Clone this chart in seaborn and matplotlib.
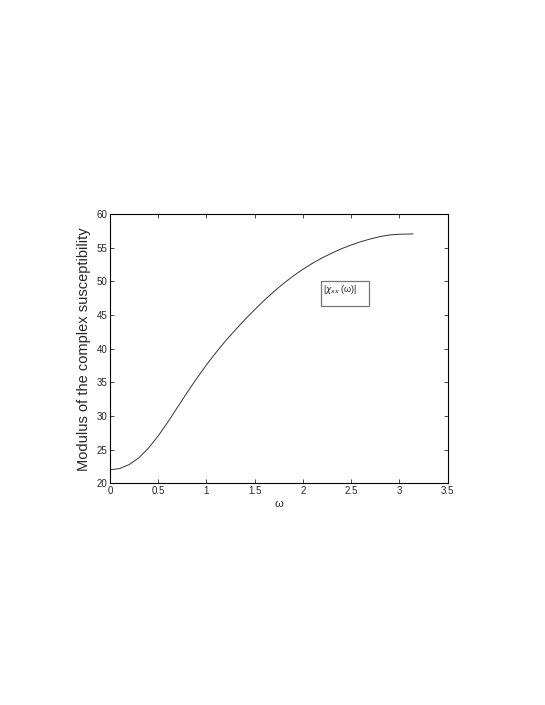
import numpy as np
import pandas as pd
import matplotlib
matplotlib.use("Agg")
import matplotlib.pyplot as plt
import seaborn as sns
from matplotlib.patches import Rectangle

# values
omega = [0.0, 0.1, 0.2, 0.3, 0.4, 0.5, 0.6, 0.7, 0.8, 0.9, 1.0, 1.1, 1.2, 1.3,
         1.4, 1.5, 1.6, 1.7, 1.8, 1.9, 2.0, 2.1, 2.2, 2.3, 2.4, 2.5, 2.6, 2.7,
         2.8, 2.9, 3.0, 3.1416]
chi_mod = [22.0, 22.2, 22.8, 23.8, 25.25, 27.05, 29.1, 31.3, 33.5, 35.6, 37.6,
           39.45, 41.2, 42.8, 44.35, 45.8, 47.2, 48.5, 49.7, 50.8, 51.8, 52.7,
           53.5, 54.2, 54.85, 55.4, 55.9, 56.3, 56.65, 56.9, 57.0, 57.05]
x_ticks = [0, 0.5, 1, 1.5, 2, 2.5, 3, 3.5]
x_ticklabels = ["0", "0.5", "1", "1.5", "2", "2.5", "3", "3.5"]
y_ticks = [20, 25, 30, 35, 40, 45, 50, 55, 60]

df = pd.DataFrame({"omega": omega, "chi": chi_mod})

sns.set_style("white")
plt.rcParams['font.family'] = ['Liberation Sans', 'DejaVu Sans']

fig = plt.figure(figsize=(5.45, 7.05), dpi=100)
ax = fig.add_axes([0.2018, 0.3144, 0.6196, 0.382])

sns.lineplot(data=df, x="omega", y="chi", ax=ax, color="#333333", linewidth=0.7)

ax.set_xlim(0, 3.5)
ax.set_ylim(20, 60)
ax.set_xticks(x_ticks)
ax.set_xticklabels(x_ticklabels)
ax.set_yticks(y_ticks)
ax.tick_params(direction="in", length=3, width=0.6, labelsize=7, pad=2,
               top=True, right=True, bottom=True, left=True)
for s in ax.spines.values():
    s.set_linewidth(0.8)
    s.set_color("black")

ax.set_xlabel("ω", fontsize=8, labelpad=2)
ax.set_ylabel("Modulus of the complex susceptibility", fontsize=10.5, labelpad=4)

# legend-like box
ax.add_patch(Rectangle((0.624, 0.658), 0.144, 0.093, transform=ax.transAxes,
                       facecolor="white", edgecolor="#777777", linewidth=0.9,
                       zorder=5))
ax.text(0.632, 0.72, r"|$\chi_{xx}$ (ω)|", transform=ax.transAxes,
        fontsize=6.5, va="center", ha="left", zorder=6)

fig.savefig("out.png", dpi=100)
